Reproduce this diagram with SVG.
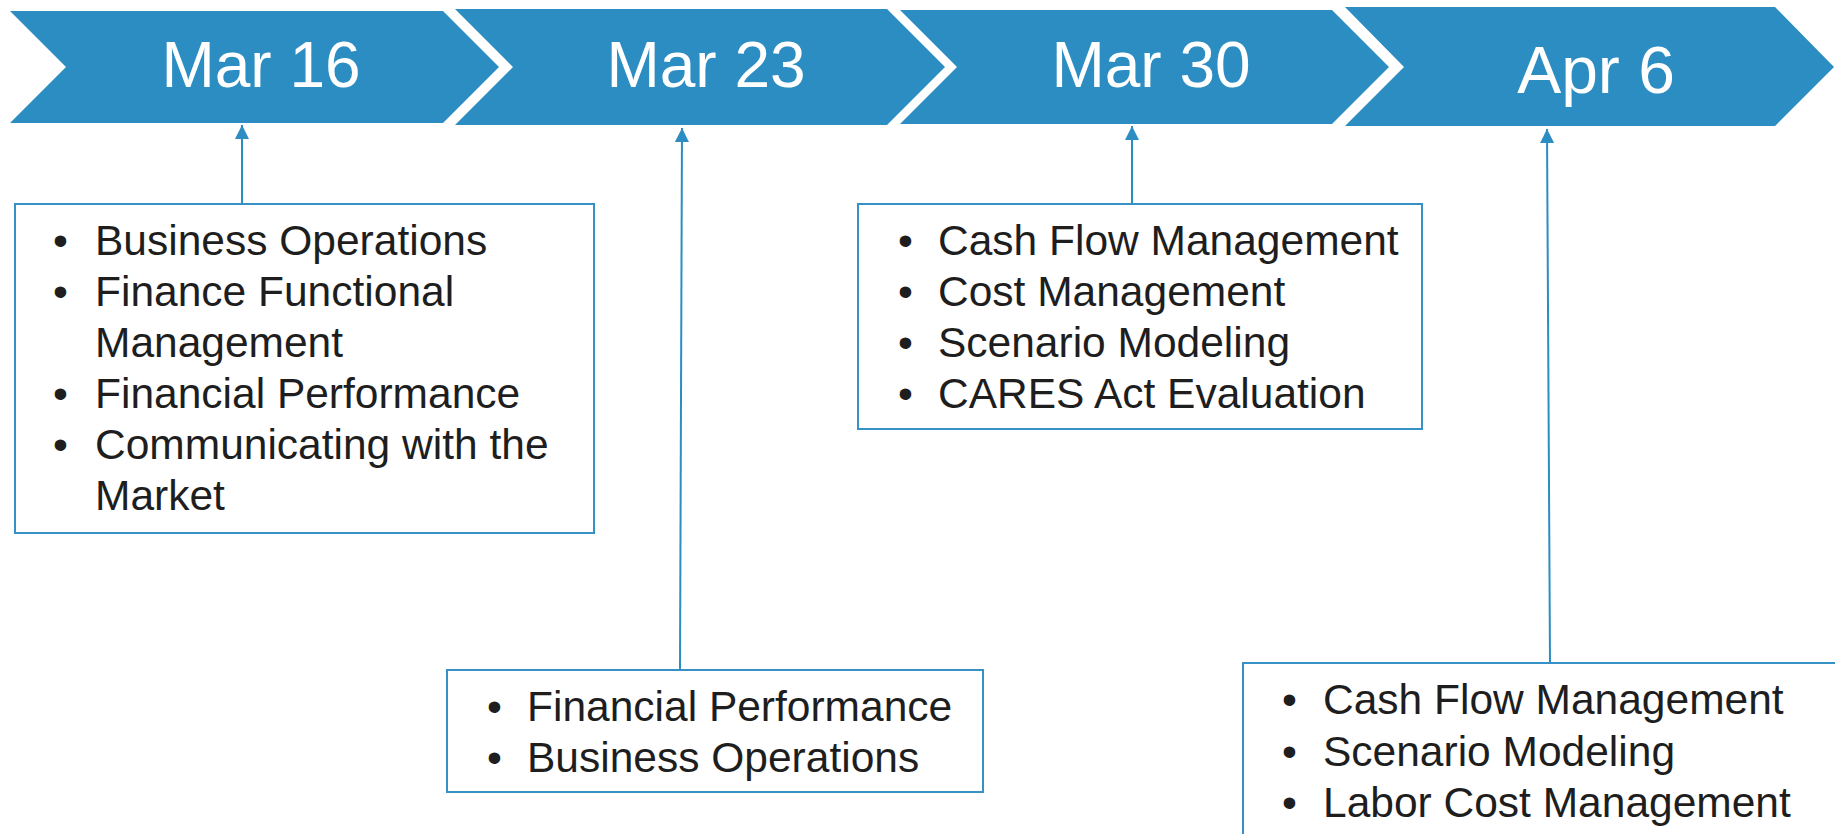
<svg xmlns="http://www.w3.org/2000/svg" width="1835" height="834" viewBox="0 0 1835 834">
<defs>
<style>
.chev{fill:#2C8DC2;}
.date{font-family:"Liberation Sans",Arial,sans-serif;font-size:64px;fill:#ffffff;text-anchor:middle;}
.box{fill:#ffffff;stroke:#3591C6;stroke-width:2;}
.item{font-family:"Liberation Sans",Arial,sans-serif;font-size:42.5px;fill:#1E1E1E;}
.conn{stroke:#2C8DC2;stroke-width:2;fill:none;marker-end:url(#ah);}
</style>
<marker id="ah" markerWidth="8" markerHeight="7" refX="7" refY="3.5" orient="auto" markerUnits="strokeWidth">
<path d="M0,0 L7,3.5 L0,7 Z" fill="#2C8DC2"/>
</marker>
</defs>
<rect width="1835" height="834" fill="#ffffff"/>

<g id="date-mar16">
<polygon class="chev" points="10,11 443,11 499,67 443,123 10,123 66,67"/>
<text class="date" x="261" y="87">Mar 16</text>
</g>
<g id="date-mar23">
<polygon class="chev" points="455,9 887,9 945,67 887,125 455,125 513,67"/>
<text class="date" x="706" y="87">Mar 23</text>
</g>
<g id="date-mar30">
<polygon class="chev" points="900,10 1332,10 1389,67 1332,124 900,124 957,67"/>
<text class="date" x="1151" y="87">Mar 30</text>
</g>
<g id="date-apr6">
<polygon class="chev" points="1345,7 1775,7 1834,67 1775,126 1345,126 1404,67"/>
<text class="date" x="1596" y="93" style="font-size:66px">Apr 6</text>
</g>

<g id="connectors">
<line class="conn" x1="242" y1="204" x2="242" y2="125"/>
<line class="conn" x1="680" y1="670" x2="682" y2="128"/>
<line class="conn" x1="1132" y1="204" x2="1132" y2="126"/>
<line class="conn" x1="1550" y1="663" x2="1547" y2="129"/>
</g>

<g id="topics-mar16">
<rect class="box" x="15" y="204" width="579" height="329"/>
<text class="item" x="53" y="255">•</text><text class="item" x="95" y="255">Business Operations</text>
<text class="item" x="53" y="306">•</text><text class="item" x="95" y="306">Finance Functional</text>
<text class="item" x="95" y="357">Management</text>
<text class="item" x="53" y="408">•</text><text class="item" x="95" y="408">Financial Performance</text>
<text class="item" x="53" y="459">•</text><text class="item" x="95" y="459">Communicating with the</text>
<text class="item" x="95" y="510">Market</text>
</g>

<g id="topics-mar23">
<rect class="box" x="447" y="670" width="536" height="122"/>
<text class="item" x="487" y="721">•</text><text class="item" x="527" y="721">Financial Performance</text>
<text class="item" x="487" y="772">•</text><text class="item" x="527" y="772">Business Operations</text>
</g>

<g id="topics-mar30">
<rect class="box" x="858" y="204" width="564" height="225"/>
<text class="item" x="898" y="255">•</text><text class="item" x="938" y="255">Cash Flow Management</text>
<text class="item" x="898" y="306">•</text><text class="item" x="938" y="306">Cost Management</text>
<text class="item" x="898" y="357">•</text><text class="item" x="938" y="357">Scenario Modeling</text>
<text class="item" x="898" y="408">•</text><text class="item" x="938" y="408">CARES Act Evaluation</text>
</g>

<g id="topics-apr6">
<rect class="box" x="1243" y="663" width="610" height="200"/>
<text class="item" x="1282" y="714">•</text><text class="item" x="1323" y="714">Cash Flow Management</text>
<text class="item" x="1282" y="766">•</text><text class="item" x="1323" y="766">Scenario Modeling</text>
<text class="item" x="1282" y="817">•</text><text class="item" x="1323" y="817">Labor Cost Management</text>
</g>
</svg>
